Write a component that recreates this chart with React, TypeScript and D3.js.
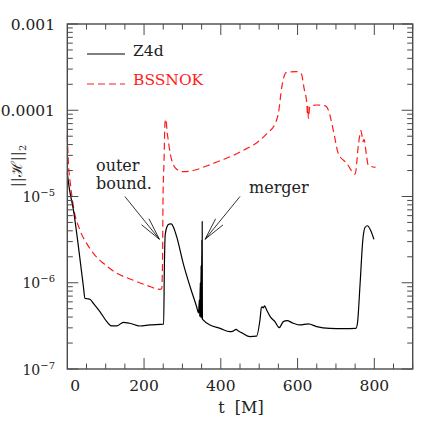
import React from 'react';
import * as d3 from 'd3';

// Z4d (black, solid)
const z4dT = [0, 5, 16, 29, 42, 46, 52, 59, 68, 85, 103, 116, 129, 146, 163, 189, 215, 251, 253, 255, 259, 265, 271, 277, 285, 302, 320, 337, 342, 344, 345, 346.5, 347.5, 348.5, 349.5, 350.5, 351, 351.5, 352, 354, 372, 398, 424, 432, 440, 446, 454, 476, 493, 502, 506, 509, 511, 514, 519.5, 530, 541, 552, 563, 572, 589, 606, 628, 650, 684, 719, 752, 756, 763, 770, 776, 782, 790, 799];
const z4dH = [1.86e-5, 1.26e-5, 6.97e-6, 2.62e-6, 8.99e-7, 6.61e-7, 6.53e-7, 6.43e-7, 5.78e-7, 4.62e-7, 3.54e-7, 3.16e-7, 3.16e-7, 3.48e-7, 3.39e-7, 3.15e-7, 3.24e-7, 3.31e-7, 1.58e-6, 3.55e-6, 4.37e-6, 4.79e-6, 4.81e-6, 4.37e-6, 3.42e-6, 1.68e-6, 8.99e-7, 5.27e-7, 4.47e-7, 6.31e-7, 4.07e-7, 1.0e-6, 3.98e-7, 1.58e-6, 3.89e-7, 3.16e-6, 3.89e-7, 5.13e-6, 3.8e-7, 3.7e-7, 3.24e-7, 2.96e-7, 2.71e-7, 2.75e-7, 2.88e-7, 2.75e-7, 2.64e-7, 2.37e-7, 2.4e-7, 3.7e-7, 5.19e-7, 5.25e-7, 5.1e-7, 5.4e-7, 4.83e-7, 3.97e-7, 3.54e-7, 3.01e-7, 3.54e-7, 3.63e-7, 3.39e-7, 3.24e-7, 3.33e-7, 3.1e-7, 2.96e-7, 2.94e-7, 2.96e-7, 3.39e-7, 9.86e-7, 3.13e-6, 4.4e-6, 4.58e-6, 4.09e-6, 3.18e-6];

// BSSNOK (red, dashed)
const bssT = [0, 3, 8, 16, 33, 50, 68, 94, 129, 172, 207, 241, 246, 248, 249.5, 252, 254.5, 257, 260, 263, 268, 272, 285, 302, 328, 363, 398, 432, 467, 493, 520, 541, 550, 559, 570, 597, 610, 617, 624, 626, 627, 628, 632, 650, 671, 680, 693, 706, 728, 750, 759, 765, 771, 773, 780, 784, 803];
const bssH = [5.13e-5, 2.4e-5, 1.41e-5, 7.59e-6, 4.07e-6, 2.88e-6, 2.19e-6, 1.68e-6, 1.29e-6, 1.07e-6, 9.33e-7, 8.39e-7, 8.5e-7, 1.58e-6, 1.0e-5, 2.51e-5, 7.08e-5, 7.85e-5, 5.62e-5, 4.52e-5, 3.16e-5, 2.65e-5, 2.07e-5, 1.94e-5, 2.0e-5, 2.26e-5, 2.6e-5, 2.99e-5, 3.59e-5, 4.17e-5, 5.37e-5, 6.92e-5, 9.2e-5, 1.87e-4, 2.73e-4, 2.81e-4, 2.63e-4, 1.79e-4, 1.2e-4, 8.9e-5, 1.1e-4, 8.05e-5, 1.11e-4, 1.15e-4, 1.13e-4, 1.01e-4, 5.9e-5, 3.17e-5, 2.43e-5, 1.82e-5, 4.14e-5, 5.79e-5, 4.33e-5, 4.6e-5, 2.9e-5, 2.32e-5, 2.18e-5];

const xTickValues = [0, 200, 400, 600, 800];
const xTickLabels = ['0', '200', '400', '600', '800'];
const yTickValues = [1e-3, 1e-4, 1e-5, 1e-6, 1e-7];
const yTickBase = ['0.001', '0.0001', '10', '10', '10'];
const yTickExp = ['', '', '−5', '−6', '−7'];

const seriesNames = ['Z4d', 'BSSNOK'];

// annotations [tailT, tailH, tipT, tipH]
const outerArrow = [150, 1.0e-5, 240, 3.19e-6];
const mergerArrow = [450, 1.0e-5, 359, 3.19e-6];
const outerText = ['outer', 'bound.'];
const mergerText = 'merger';

const FONT = '"DejaVu Serif", serif';

export default function App() {
  const L = 67.3, R = 412.7, T = 24, B = 369;
  const x = d3.scaleLinear().domain([0, 900]).range([L, R]);
  const y = d3.scaleLog().domain([1e-7, 1e-3]).range([B, T]);

  const line = d3.line<[number, number]>()
    .x(d => x(d[0]))
    .y(d => y(d[1]))
    .curve(d3.curveMonotoneX);

  const z4d = z4dT.map((t, i) => [t, z4dH[i]] as [number, number]);
  const bss = bssT.map((t, i) => [t, bssH[i]] as [number, number]);

  const minorX = d3.range(0, 901, 50).filter(v => v % 200 !== 0);
  const majorX = [200, 400, 600, 800];
  const minorY: number[] = [];
  for (let e = -7; e < -3; e++) {
    for (let k = 2; k <= 9; k++) minorY.push(k * Math.pow(10, e));
  }
  const axisColor = '#4a4a4a';
  const majorLen = 11, minorLen = 5.5;

  const arrow = (a: number[], key: string) => {
    const x1 = x(a[0]), y1 = y(a[1]), x2 = x(a[2]), y2 = y(a[3]);
    const ang = Math.atan2(y2 - y1, x2 - x1);
    const hl = 23, ha = (12 * Math.PI) / 180;
    const p1 = [x2 - hl * Math.cos(ang - ha), y2 - hl * Math.sin(ang - ha)];
    const p2 = [x2 - hl * Math.cos(ang + ha), y2 - hl * Math.sin(ang + ha)];
    return (
      <g key={key} stroke="#000" strokeWidth={0.8} fill="none">
        <line x1={x1} y1={y1} x2={x2} y2={y2} />
        <line x1={p1[0]} y1={p1[1]} x2={x2} y2={y2} />
        <line x1={p2[0]} y1={p2[1]} x2={x2} y2={y2} />
      </g>
    );
  };

  return (
    <svg width={436} height={436} style={{ position: 'absolute', left: 0, top: 0, background: '#fff' }} fontFamily={FONT}>
      <rect x={0} y={0} width={436} height={436} fill="#fff" />
      {/* curves */}
      <path d={line(bss) || ''} fill="none" stroke="#ff1a1a" strokeWidth={1.2} strokeDasharray="7,4" />
      <path d={line(z4d) || ''} fill="none" stroke="#000" strokeWidth={1.2} />

      {/* frame */}
      <rect x={L} y={T} width={R - L} height={B - T} fill="none" stroke={axisColor} strokeWidth={1.4} />
      {/* x ticks */}
      {minorX.map(v => (
        <g key={'mx' + v} stroke={axisColor} strokeWidth={1}>
          <line x1={x(v)} x2={x(v)} y1={B} y2={B - minorLen} />
          <line x1={x(v)} x2={x(v)} y1={T} y2={T + minorLen} />
        </g>
      ))}
      {majorX.map(v => (
        <g key={'Mx' + v} stroke={axisColor} strokeWidth={1}>
          <line x1={x(v)} x2={x(v)} y1={B} y2={B - majorLen} />
          <line x1={x(v)} x2={x(v)} y1={T} y2={T + majorLen} />
        </g>
      ))}
      {/* y ticks */}
      {minorY.map((v, i) => (
        <g key={'my' + i} stroke={axisColor} strokeWidth={1}>
          <line x1={L} x2={L + minorLen} y1={y(v)} y2={y(v)} />
          <line x1={R} x2={R - minorLen} y1={y(v)} y2={y(v)} />
        </g>
      ))}
      {yTickValues.map(v => (
        <g key={'My' + v} stroke={axisColor} strokeWidth={1}>
          <line x1={L} x2={L + majorLen} y1={y(v)} y2={y(v)} />
          <line x1={R} x2={R - majorLen} y1={y(v)} y2={y(v)} />
        </g>
      ))}

      {/* x tick labels */}
      {xTickValues.map((v, i) => (
        <text key={'xl' + v} x={x(v) + (v === 0 ? 8 : 0)} y={391} textAnchor="middle" fontSize={15.5} fill="#222">
          {xTickLabels[i]}
        </text>
      ))}
      {/* y tick labels */}
      {yTickValues.map((v, i) => (
        <text key={'yl' + v} x={55} y={y(v) + 5.5} textAnchor="end" fontSize={yTickExp[i] ? 14 : 15.5} fill="#222">
          {yTickBase[i]}
          {yTickExp[i] ? <tspan fontSize={10} dy={-6}>{yTickExp[i]}</tspan> : null}
        </text>
      ))}

      {/* axis titles */}
      <text x={241} y={413} textAnchor="middle" fontSize={16} fill="#222" xmlSpace="preserve">t  [M]</text>
      <text transform="translate(22,166) rotate(-90)" textAnchor="middle" fontSize={15} fill="#222">
        ||ℋ||<tspan fontSize={10} dy={4}>2</tspan>
      </text>

      {/* legend */}
      <line x1={87} x2={125} y1={54} y2={54} stroke="#000" strokeWidth={1.2} />
      <text x={133} y={56} fontSize={15.5} fill="#222">{seriesNames[0]}</text>
      <line x1={87} x2={125} y1={84} y2={84} stroke="#ff1a1a" strokeWidth={1.2} strokeDasharray="7,4" />
      <text x={133} y={85} fontSize={15.5} fill="#ff1a1a">{seriesNames[1]}</text>

      {/* annotations */}
      <text x={96} y={171} fontSize={16} fill="#222">{outerText[0]}</text>
      <text x={96} y={189} fontSize={16} fill="#222">{outerText[1]}</text>
      {arrow(outerArrow, 'a1')}
      <text x={249} y={193} fontSize={16} fill="#222">{mergerText}</text>
      {arrow(mergerArrow, 'a2')}
    </svg>
  );
}
